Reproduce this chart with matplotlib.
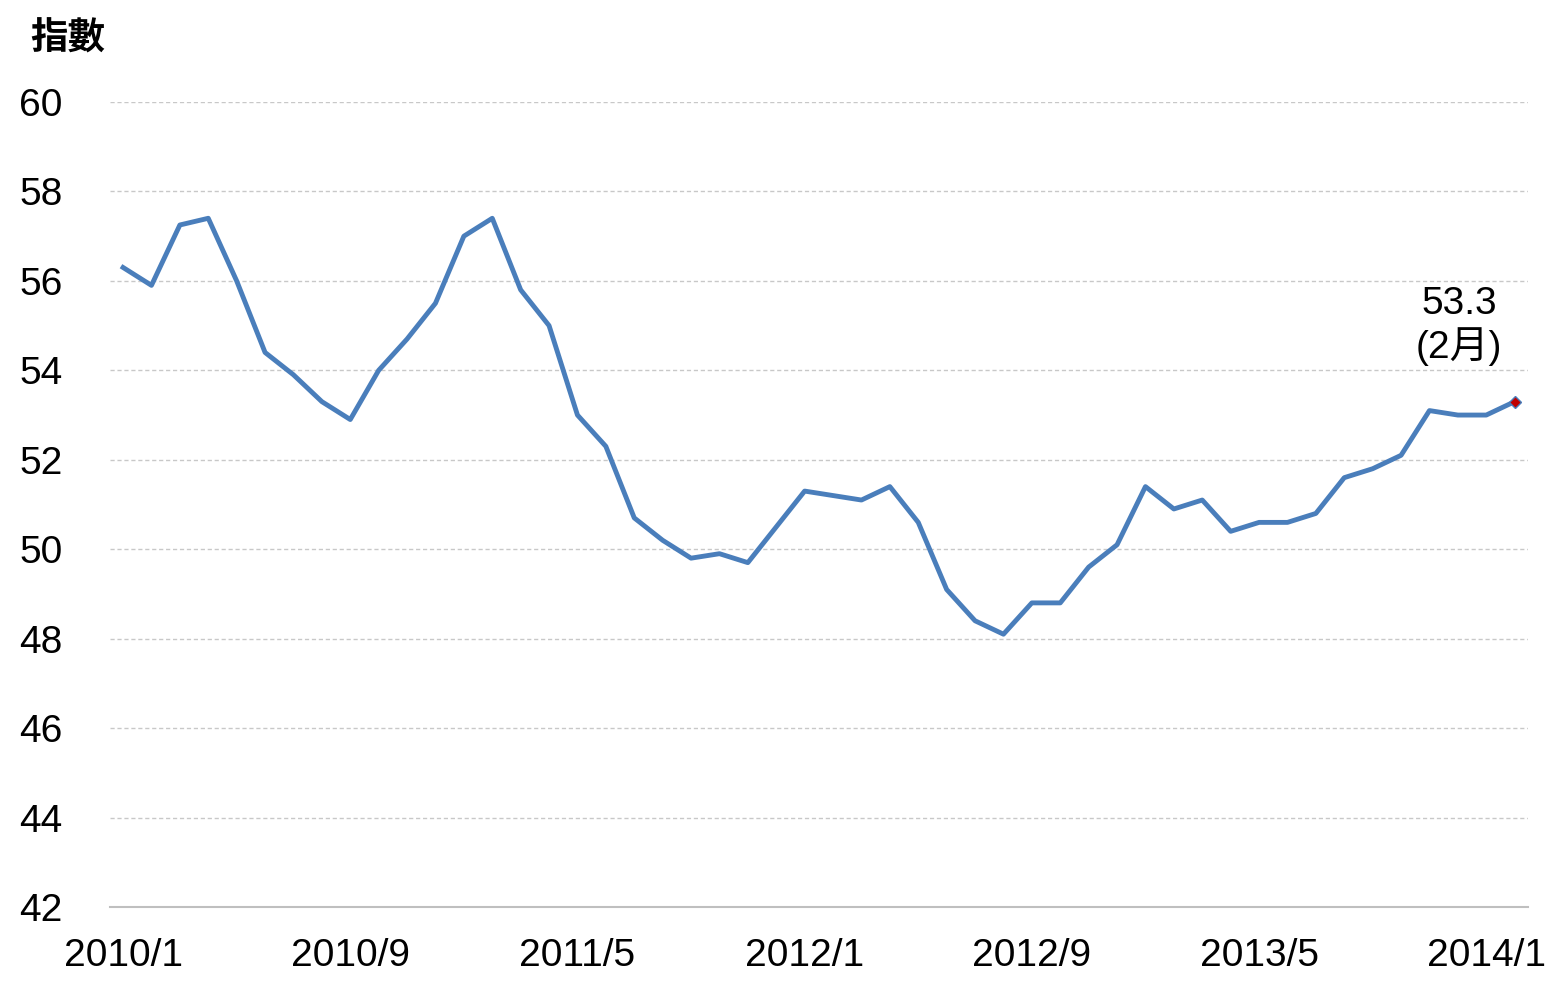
import matplotlib
matplotlib.use("Agg")
import matplotlib.pyplot as plt

plt.rcParams['font.family'] = ['Liberation Sans', 'Noto Sans CJK TC', 'DejaVu Sans']

# monthly index, 2010/1 .. 2014/2
values = [56.3, 55.9, 57.25, 57.4, 56.0, 54.4, 53.9, 53.3, 52.9, 54.0,
          54.7, 55.5, 57.0, 57.4, 55.8, 55.0, 53.0, 52.3, 50.7, 50.2,
          49.8, 49.9, 49.7, 50.5, 51.3, 51.2, 51.1, 51.4, 50.6, 49.1,
          48.4, 48.1, 48.8, 48.8, 49.6, 50.1, 51.4, 50.9, 51.1, 50.4,
          50.6, 50.6, 50.8, 51.6, 51.8, 52.1, 53.1, 53.0, 53.0, 53.3]
tick_pos = [0, 8, 16, 24, 32, 40, 48]
tick_labels = ['2010/1', '2010/9', '2011/5', '2012/1', '2012/9', '2013/5', '2014/1']

fig = plt.figure(figsize=(15.5, 10.05), dpi=100)
ax = fig.add_axes([110/1550, 1 - 907/1005, 1418/1550, 805/1005])
x = list(range(len(values)))
ax.plot(x, values, color='#4a7ebb', lw=3.5)
ax.plot(x[-1], values[-1], marker='D', ms=6, color='#c00000', mec='#4a7ebb', mew=1)
ax.annotate('53.3\n(2月)', (x[-1], values[-1]), xytext=(-40, 26), textcoords='offset points',
            ha='center', va='bottom', fontsize=28, linespacing=1.15)

ax.set_xlim(-0.46, 49.47)
ax.set_ylim(42, 60)
ax.set_yticks(range(42, 61, 2))
ax.set_xticks(tick_pos)
ax.set_xticklabels(tick_labels)
ax.tick_params(axis='both', labelsize=28, length=0)
ax.tick_params(axis='x', pad=22)
ax.tick_params(axis='y', pad=34)
ax.yaxis.grid(True, color='#c8c8c8', ls=(0, (3, 2)), lw=1)
for s in ['left', 'right', 'top']:
    ax.spines[s].set_visible(False)
ax.spines['bottom'].set_color('#bfbfbf')
ax.spines['bottom'].set_linewidth(1.5)
fig.text(30/1550, 1 - 40/1005, '指數', fontsize=27, va='center', fontweight='bold')

fig.savefig('out.png')
